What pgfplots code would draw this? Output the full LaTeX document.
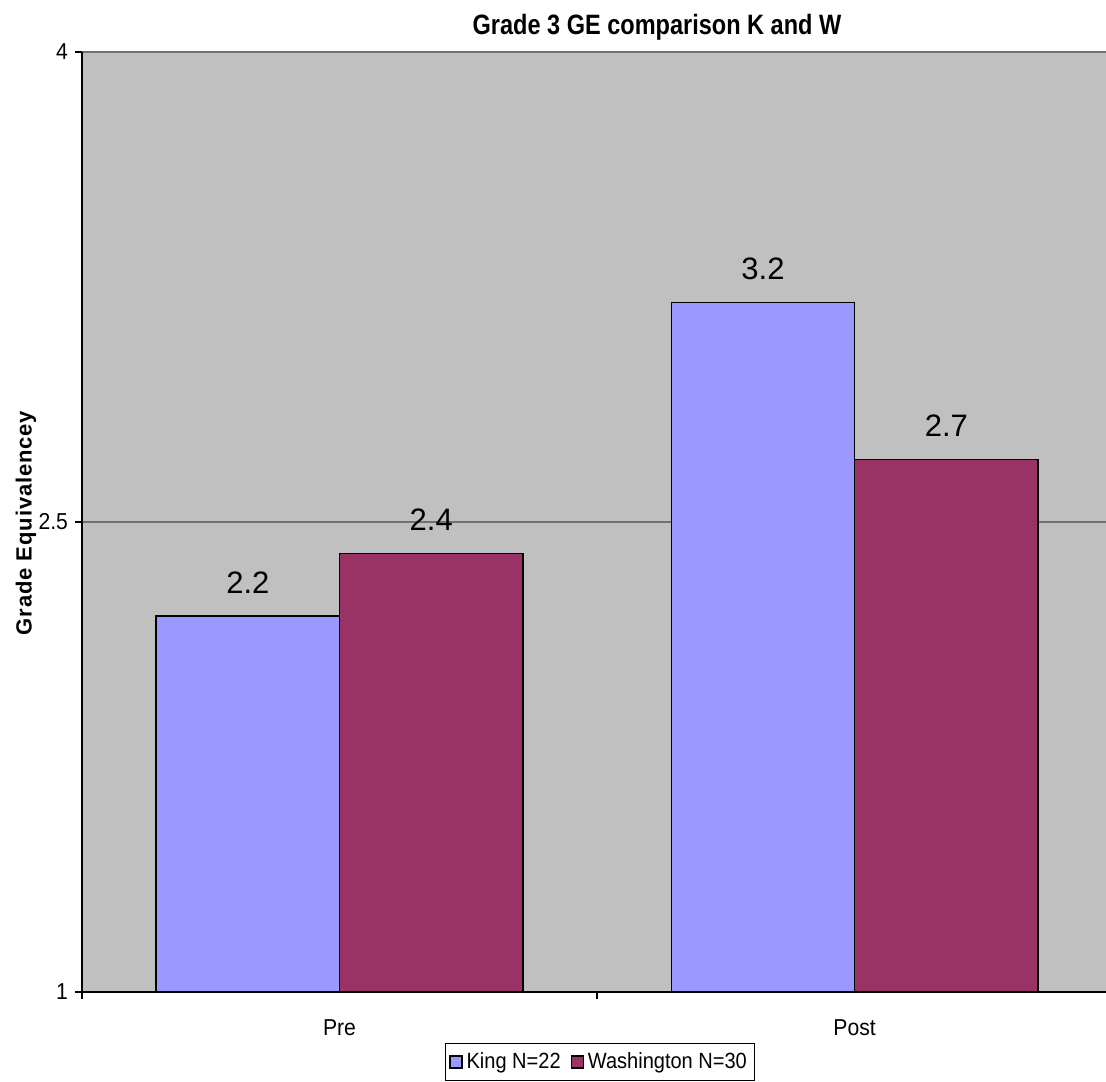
\documentclass[border=0pt]{standalone}
\usepackage{fontspec}
\setmainfont{Liberation Sans}
\usepackage{pgfplots}
\pgfplotsset{compat=1.18}
\definecolor{bgGray}{HTML}{C0C0C0}
\definecolor{kingC}{HTML}{9999FF}
\definecolor{washC}{HTML}{993366}
\definecolor{gridC}{HTML}{707070}
\begin{document}
\begin{tikzpicture}
\begin{axis}[
  name=ax,
  scale only axis, width=512pt, height=470pt,
  xmin=-0.5, xmax=1.488, ymin=1, ymax=4,
  /pgf/number format/assume math mode=true,
  ytick={1,2.5,4}, yticklabels={1,2.5,4},
  xtick={-0.5,0.5,1.5}, xticklabels={},
  extra x ticks={0,1}, extra x tick labels={Pre,Post},
  extra x tick style={major tick length=0pt, grid=none, xticklabel style={yshift=-10.5pt}},
  tick align=outside, major tick length=3.5pt,
  tick style={black, line width=0.6pt},
  axis x line*=bottom, axis y line*=left,
  axis line style={black, line width=0.9pt},
  ymajorgrids, grid style={draw=gridC, line width=0.8pt},
  axis background/.style={fill=bgGray},
  ticklabel style={font=\fontsize{11.5pt}{13pt}\selectfont\addfontfeature{FakeStretch=0.92}},
  ylabel={\addfontfeature{LetterSpace=4}Grade Equivalencey},
  ylabel style={at={(axis description cs:-0.0547,0.499)}, anchor=center, font=\fontsize{11pt}{13pt}\selectfont\bfseries},
  every axis title/.style={at={(axis description cs:0.5615,1)}, anchor=base, yshift=8.5pt, inner sep=0pt,
    font=\fontsize{14pt}{16pt}\selectfont\bfseries\addfontfeature{FakeStretch=0.84}},
  title={Grade 3 GE comparison K and W},
  ybar, bar width=0.356,
  nodes near coords={\pgfmathprintnumber[fixed,precision=1]{\pgfplotspointmeta}},
  nodes near coords style={anchor=south, inner sep=0pt, yshift=11pt, font=\fontsize{15.5pt}{18pt}\selectfont},
  legend style={at={(axis description cs:0.506,-0.0745)}, anchor=center, draw=black, line width=0.5pt,
    legend columns=2, font=\fontsize{11pt}{13pt}\selectfont\addfontfeature{FakeStretch=0.91}, inner xsep=2pt, inner ysep=2.5pt,
    /tikz/every even column/.append style={column sep=3pt}},
  legend image code/.code={\draw[#1, draw=black, line width=0.6pt] (0pt,-3pt) rectangle (6pt,3pt);},
]
\addplot[fill=kingC, draw=black, line width=0.75pt, bar shift=0pt] coordinates {(-0.178,2.2) (0.822,3.2)};
\addplot[fill=washC, draw=black, line width=0.75pt, bar shift=0pt] coordinates {(0.178,2.4) (1.178,2.7)};
\legend{King N=22, Washington N=30}
\end{axis}
\pgfresetboundingbox
\path ([xshift=-41pt,yshift=-44.5pt]ax.south west) rectangle ([yshift=26pt]ax.north east);
\end{tikzpicture}
\end{document}
